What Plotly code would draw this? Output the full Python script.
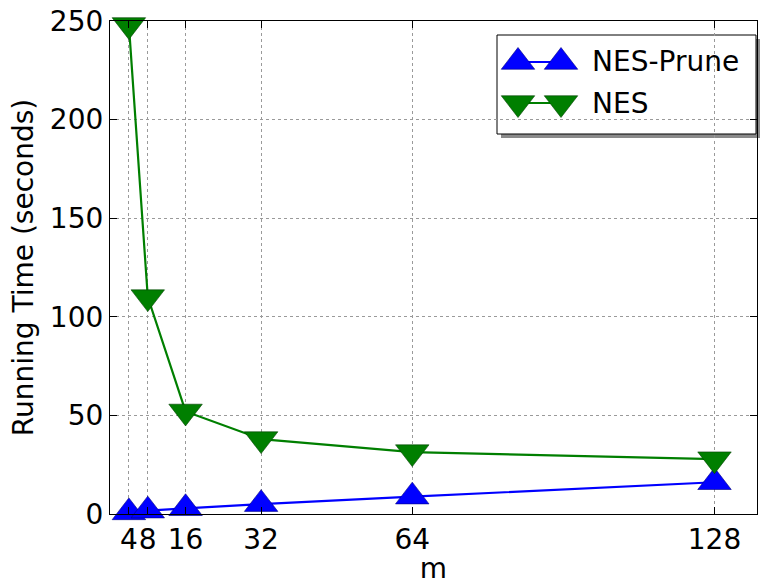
import plotly.graph_objects as go

m_values = [4, 8, 16, 32, 64, 128]
nes_prune = [0.8, 1.7, 2.9, 5.0, 8.8, 16.1]
nes = [248, 110, 52, 38, 31.4, 27.8]
x_ticks = [4, 8, 16, 32, 64, 128]
y_ticks = [0, 50, 100, 150, 200, 250]
series_names = ["NES-Prune", "NES"]

FONT = "DejaVu Sans"
BLUE = "#0000ff"
GREEN = "#007f00"
MSIZE = 29

# plot area in pixels
L, R, T, B = 110, 6, 21, 71
W, H = 763, 585
PW, PH = W - L - R, H - T - B


def px(x):
    return (x - L) / PW


def py(y):
    return (H - B - y) / PH


fig = go.Figure()
fig.add_trace(go.Scatter(
    x=m_values, y=nes_prune, name=series_names[0], mode="lines+markers",
    line=dict(color=BLUE, width=2.2),
    marker=dict(symbol="triangle-up", size=MSIZE, color=BLUE,
                line=dict(color="#000080", width=0.6)),
    cliponaxis=False, showlegend=False,
))
fig.add_trace(go.Scatter(
    x=m_values, y=nes, name=series_names[1], mode="lines+markers",
    line=dict(color=GREEN, width=2.2),
    marker=dict(symbol="triangle-down", size=MSIZE, color=GREEN,
                line=dict(color="#004000", width=0.6)),
    cliponaxis=False, showlegend=False,
))

# custom legend (matplotlib style: two markers joined by a line)
leg_x = [px(518), px(561)]
leg_y = [py(62), py(103)]
for name, sym, col, ecol, yy in [
    (series_names[0], "triangle-up", BLUE, "#000080", leg_y[0]),
    (series_names[1], "triangle-down", GREEN, "#004000", leg_y[1]),
]:
    fig.add_trace(go.Scatter(
        x=leg_x, y=[yy, yy], mode="lines+markers", xaxis="x2", yaxis="y2",
        line=dict(color=col, width=2.2),
        marker=dict(symbol=sym, size=MSIZE, color=col, line=dict(color=ecol, width=0.6)),
        showlegend=False, hoverinfo="skip", cliponaxis=False,
    ))
    fig.add_annotation(x=px(590), y=yy, xref="paper", yref="paper", text=name,
                       showarrow=False, xanchor="left", yanchor="middle",
                       font=dict(family=FONT, size=28, color="black"))

# legend shadow and box
fig.add_shape(type="rect", xref="paper", yref="paper",
              x0=px(501), x1=px(760), y0=py(138), y1=py(39),
              fillcolor="#8a8a8a", line=dict(width=0), layer="between")
fig.add_shape(type="rect", xref="paper", yref="paper",
              x0=px(497), x1=px(756), y0=py(134), y1=py(35),
              fillcolor="white", line=dict(color="black", width=1), layer="between")

axis_common = dict(
    showline=True, linecolor="black", linewidth=1.2, mirror="ticks",
    showgrid=True, gridcolor="#9a9a9a", griddash="dot", gridwidth=1,
    zeroline=False, ticks="inside", ticklen=7, tickcolor="black",
    tickfont=dict(family=FONT, size=28, color="black"),
    automargin=False, tickangle=0,
)

fig.update_layout(
    width=W, height=H,
    margin=dict(l=L, r=R, t=T, b=B),
    paper_bgcolor="white", plot_bgcolor="white",
    font=dict(family=FONT, color="black"),
    xaxis=dict(range=[0, 137], tickvals=x_ticks,
               ticktext=[str(v) for v in x_ticks],
               title=dict(text="m", font=dict(family=FONT, size=28), standoff=12),
               **axis_common),
    yaxis=dict(range=[0, 250], tickvals=y_ticks,
               title=dict(text="Running Time (seconds)", font=dict(family=FONT, size=28), standoff=8),
               **axis_common),
    xaxis2=dict(overlaying="x", range=[0, 1], visible=False),
    yaxis2=dict(overlaying="y", range=[0, 1], visible=False),
    showlegend=False,
)

fig.write_html("out.html", config={"displayModeBar": False},
               post_script="document.body.style.margin='0';document.body.style.padding='0';")
